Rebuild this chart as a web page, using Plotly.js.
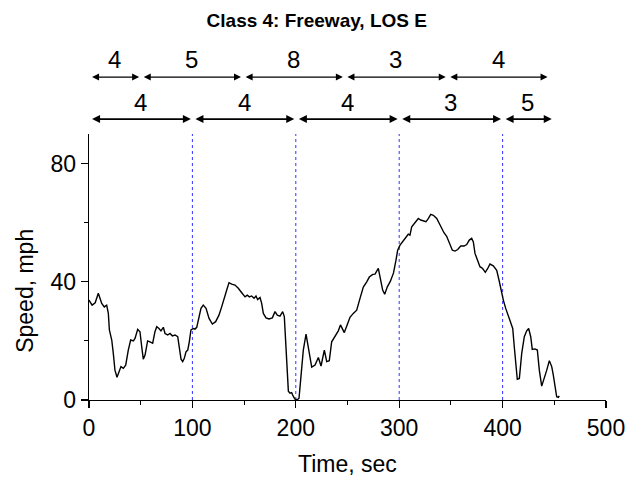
<!DOCTYPE html>
<html>
<head>
<meta charset="utf-8">
<script src="https://cdn.plot.ly/plotly-3.0.1.min.js"></script>
<style>
  html, body { margin: 0; padding: 0; background: #fff; }
  #chart { width: 626px; height: 477px; }
</style>
</head>
<body>
<div id="chart"></div>
<script>
// Speed trace, seconds vs mph
const timeSec = [
  0, 3, 6, 9, 12.3, 14.8, 17.1, 18.7, 19.7, 22, 23.5, 25.1, 27.1, 29.3, 30.9, 33.2, 35.5,
  38, 40.3, 42.9, 44.5, 47.1, 49.3, 51, 52.5, 54.2, 56.7, 59, 61.6, 63.8, 65.5, 67.7,
  69.6, 71.9, 73.5, 76.1, 78.3, 80.6, 83.2, 85.8, 87.4, 89, 90.6, 92.2, 93.8, 95.5, 97,
  98.6, 100.9, 102.5, 104.2, 105.7, 108.3, 110.5, 113.2, 116.1, 119.3, 122.5, 125.7,
  128.3, 130.9, 133.2, 135.4, 138, 141.2, 144.4, 147.7, 150.9, 153.1, 155, 157.3, 159.6,
  161.5, 163.1, 165.4, 167, 168.6, 171.2, 174.1, 177.3, 179.9, 182.1, 184.7, 187.3,
  188.9, 190.2, 191.5, 192.8, 194.4, 196, 197.6, 199.2, 201.5, 203.1, 205, 207.3, 209.9,
  212.1, 215.4, 218.6, 221.8, 224.4, 227.6, 229.9, 232.4, 234.7, 237.9, 241.1, 243.2,
  246.9, 250.2, 252.4, 255.6, 258.9, 262.1, 265.3, 268.6, 271.1, 274.4, 276.6, 279.8,
  282.1, 284, 286, 288.5, 291.5, 294.5, 296.9, 298.5, 300.8, 304, 307.3, 308.8, 310.4,
  312.1, 315.3, 318.5, 320.8, 323.3, 325.9, 328.1, 330.5, 333, 336.3, 338.8, 341.1,
  343.3, 345.9, 348.5, 351.4, 354, 356.6, 359.5, 362.7, 365.3, 367.8, 370.1, 371.7,
  373.3, 375.5, 378.1, 380.7, 383.3, 385.6, 387.8, 391, 394.3, 396.5, 398.5, 400.7, 403,
  405.5, 407.8, 409.8, 411.3, 413, 414.2, 416.2, 418.5, 421, 423.3, 425.2, 427.2, 428.7,
  431.3, 433.6, 435.5, 437.8, 440.3, 442.7, 445.2, 447.5, 449, 450.7, 452.3, 453.9, 454.8
];
const speedMph = [
  33.8, 32.1, 32.9, 36.1, 32.7, 31.5, 32.1, 29.3, 23.7, 20.3, 15.8, 10.1, 7.7, 9.6, 11.3,
  10.7, 11.8, 16.9, 20.3, 20, 20.8, 23.9, 23.1, 18, 13.8, 15.2, 20, 19.7, 19.2, 23.1,
  24.8, 24.2, 23.4, 24.6, 22.5, 22, 22.5, 21.7, 22, 21.4, 18, 13.8, 13, 14.1, 16.3, 16.9,
  19.7, 23.7, 24.2, 24, 24.6, 27, 31, 32.1, 31, 27.6, 25.7, 26.5, 28.7, 31.5, 34.9, 37.2,
  39.7, 39.2, 38.9, 37.8, 36.3, 34.9, 35.5, 34.9, 35.2, 34.4, 35.2, 34, 34.7, 32.7, 29.3,
  27.8, 27.4, 27.8, 29.9, 28.7, 28.4, 29.9, 28.2, 19.2, 10.1, 3, 2.3, 2.5, 1.2, 0.3, 0.1,
  0.6, 8, 17, 22.3, 18, 11.1, 11.8, 14.4, 11.5, 16.9, 13, 13.3, 19.7, 21.4, 23.4, 25.4,
  22.8, 25.9, 28, 29.3, 30.4, 34.4, 38.2, 40, 41.6, 42.5, 42.6, 44.5, 40.6, 37.2, 35.8,
  38.3, 40.2, 43, 47.3, 50.7, 52.4, 54.1, 55.4, 56.1, 55.8, 58.6, 59.9, 61.4, 60.9, 60.6,
  60.3, 61.4, 62.8, 62.5, 61.4, 59.7, 58, 56.6, 55.4, 53, 50.7, 50.4, 50.9, 52.1, 52.1,
  52.6, 54.1, 54.7, 53.5, 49.6, 47.6, 45.1, 44.5, 43.2, 44.5, 46, 45.4, 43.9, 40.6, 37.2,
  33.8, 31, 28.7, 25.9, 24.2, 18, 11.3, 7, 7.3, 15.8, 21.4, 23.4, 24.2, 21.4, 17.1, 17.3,
  16.9, 10.1, 4.7, 7.3, 10.1, 13.3, 11.3, 8.5, 4, 1.1, 0.9, 1.4
];

// Reference time marks (dotted verticals)
const markTimes = [100, 200, 300, 400];

// Upper row of windows: boundaries and counts
const upperBounds = [0, 50, 148.5, 247, 346.5, 445];
const upperCounts = ['4', '5', '8', '3', '4'];
// Lower row of windows: boundaries and counts
const lowerBounds = [0, 100, 200, 300, 400, 449];
const lowerCounts = ['4', '4', '4', '3', '5'];

const FONT = 'Liberation Sans, Arial, Helvetica, sans-serif';
const X_MAX = 500, Y_MAX = 90;

const shapes = markTimes.map(t => ({
  type: 'line', xref: 'x', yref: 'y', x0: t, x1: t, y0: 0, y1: Y_MAX,
  line: {color: '#3333ff', width: 1, dash: 'dot'}, layer: 'below'
}));

const annotations = [];
function addRow(bounds, counts, arrowY, labelY, lineW) {
  for (let i = 0; i < counts.length; i++) {
    const a = bounds[i] + 1.5, b = bounds[i + 1] - 1.5;
    annotations.push({
      xref: 'x', yref: 'paper', axref: 'x', ayref: 'pixel',
      x: b, y: arrowY, ax: a, ay: 0, text: '', showarrow: true,
      arrowside: 'end+start', arrowhead: 2, arrowsize: 1, arrowwidth: lineW,
      arrowcolor: '#000', standoff: 0, startstandoff: 0
    });
    annotations.push({
      xref: 'x', yref: 'paper', x: (bounds[i] + bounds[i + 1]) / 2, y: labelY,
      text: counts[i], showarrow: false, xanchor: 'center', yanchor: 'middle',
      font: {family: FONT, size: 24, color: '#000'}
    });
  }
}
addRow(upperBounds, upperCounts, 1.214, 1.28, 1.4);
addRow(lowerBounds, lowerCounts, 1.056, 1.12, 1.6);

// Axis titles
annotations.push({
  xref: 'paper', yref: 'paper', x: 0.5, y: -0.24, text: 'Time, sec',
  showarrow: false, xanchor: 'center', yanchor: 'middle',
  font: {family: FONT, size: 23, color: '#000'}
});
annotations.push({
  xref: 'paper', yref: 'paper', x: -0.124, y: 0.41, text: 'Speed, mph',
  textangle: -90, showarrow: false, xanchor: 'center', yanchor: 'middle',
  font: {family: FONT, size: 23, color: '#000'}
});

const trace = {
  x: timeSec, y: speedMph, type: 'scatter', mode: 'lines',
  line: {color: '#000', width: 1.4}, hoverinfo: 'skip'
};

const layout = {
  width: 626, height: 477,
  margin: {l: 89, r: 20, t: 134, b: 77, pad: 0},
  paper_bgcolor: '#fff', plot_bgcolor: '#fff',
  showlegend: false,
  font: {family: FONT, color: '#000'},
  title: {
    text: '<b>Class 4: Freeway, LOS E</b>',
    font: {family: FONT, size: 19, color: '#000'},
    xref: 'container', x: 0.506, xanchor: 'center',
    yref: 'container', y: 0.958, yanchor: 'middle'
  },
  xaxis: {
    range: [0, X_MAX], dtick: 100, tick0: 0,
    showgrid: false, zeroline: false,
    showline: true, linecolor: '#000', linewidth: 1.3,
    ticks: 'outside', ticklen: 7, tickwidth: 1.3, tickcolor: '#000',
    minor: {dtick: 50, ticks: 'outside', ticklen: 4, tickwidth: 1, tickcolor: '#000'},
    tickfont: {family: FONT, size: 23, color: '#000'}
  },
  yaxis: {
    range: [0, Y_MAX], dtick: 40, tick0: 0,
    showgrid: false, zeroline: false,
    showline: true, linecolor: '#000', linewidth: 1.3,
    ticks: 'outside', ticklen: 7, tickwidth: 1.3, tickcolor: '#000',
    minor: {dtick: 20, ticks: 'outside', ticklen: 4, tickwidth: 1, tickcolor: '#000'},
    tickfont: {family: FONT, size: 23, color: '#000'}
  },
  shapes: shapes,
  annotations: annotations
};

Plotly.newPlot('chart', [trace], layout, {staticPlot: true, displayModeBar: false});
</script>
</body>
</html>
